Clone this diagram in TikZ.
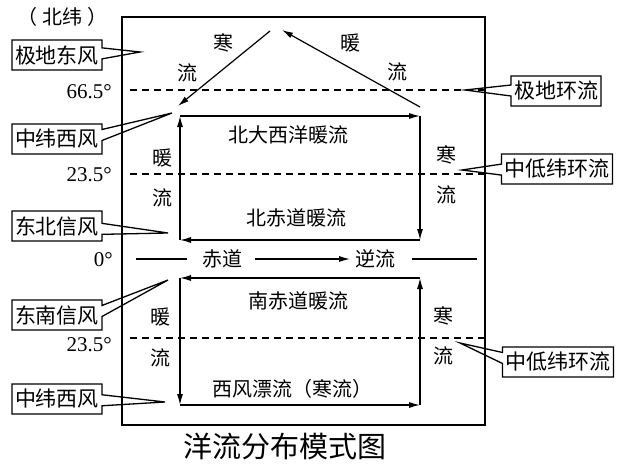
\documentclass[tikz,border=0pt]{standalone}
\usepackage{fontspec}
\setmainfont{Liberation Serif}
\newfontfamily\cjk{Noto Sans CJK SC}
\usetikzlibrary{arrows.meta,shapes.callouts}
\tikzset{
  frame/.style={draw, line width=1.2pt},
  lat/.style={dash pattern=on 7pt off 5pt, line width=1.1pt},            % latitude lines
  flow/.style={-{Latex[length=11pt,width=6pt]}, line width=1.2pt},        % currents
  cn/.style={font=\cjk\fontsize{20}{20}\selectfont, inner sep=0pt},
  deg/.style={font=\fontsize{21}{21}\selectfont, anchor=east, inner sep=0pt},
  wind/.style={rectangle callout, draw, fill=white, line width=1.3pt, inner sep=3pt,
    minimum height=30pt, callout pointer width=11pt, font=\cjk\fontsize{21}{21}\selectfont}
}

\begin{document}
\begin{tikzpicture}[x=1pt,y={(0pt,-1pt)}]
  \useasboundingbox (0,0) rectangle (640,466);

  % wind belts and cells
  \node[wind, callout absolute pointer={(140,52)}] (wPolar) at (57,55) {极地东风};
  \node[wind, callout absolute pointer={(172,113)}] (wWestN) at (57,139) {中纬西风};
  \node[wind, callout absolute pointer={(168,233)}] (wTradeN) at (57,226) {东北信风};
  \node[wind, callout absolute pointer={(168,280)}] (wTradeS) at (57,315) {东南信风};
  \node[wind, callout absolute pointer={(165,402)}] (wWestS) at (57,399) {中纬西风};
  \node[wind, callout absolute pointer={(465,90)}] (cPolar) at (556,91) {极地环流};
  \node[wind, callout absolute pointer={(462,170)}] (cLowN) at (557,169) {中低纬环流};
  \node[wind, callout absolute pointer={(460,343)}] (cLowS) at (558,362) {中低纬环流};

  \draw[frame] (122,17) rectangle (485,425);

  \coordinate (l66a) at (130,90);  \coordinate (l66b) at (488,90);
  \coordinate (l23a) at (130,174); \coordinate (l23b) at (488,174);
  \coordinate (s23a) at (130,338); \coordinate (s23b) at (488,338);
  \draw[lat] (l66a) -- (l66b);
  \draw[lat] (l23a) -- (l23b);
  \draw[lat] (s23a) -- (s23b);

  \node[cn] (north) at (62,17) {（\hspace{5pt}北纬\hspace{5pt}）};
  \node[deg] (d66) at (112,92) {66.5°};
  \node[deg] (d23) at (112,175) {23.5°};
  \node[deg] (d0) at (113,260) {0°};
  \node[deg] (s23) at (112,345) {23.5°};

  % equator
  \coordinate (eqA) at (136,259); \coordinate (eqB) at (187,259);
  \coordinate (eqC) at (255,259); \coordinate (eqD) at (350,259);
  \coordinate (eqE) at (412,259); \coordinate (eqF) at (477,259);
  \node[cn] (eqName) at (222,259) {赤道};
  \node[cn] (eqCounter) at (375,259) {逆流};
  \draw[line width=1.2pt] (eqA) -- (eqB);
  \draw[flow] (eqC) -- (eqD);
  \draw[line width=1.2pt] (eqE) -- (eqF);

  % polar currents
  \coordinate (pTop) at (270,31);  \coordinate (pLeft) at (178,106);
  \coordinate (pRight) at (420,107); \coordinate (pTip) at (282,30);
  \draw[flow] (pTop) -- (pLeft);
  \draw[flow] (pRight) -- (pTip);
  \node[cn] (pc1) at (223,43) {寒};
  \node[cn] (pc2) at (187,73) {流};
  \node[cn] (pw1) at (350,43) {暖};
  \node[cn] (pw2) at (397,72) {流};

  % northern gyre
  \coordinate (nTL) at (180,116); \coordinate (nTR) at (420,116);
  \coordinate (nBR) at (420,240); \coordinate (nBL) at (180,240);
  \draw[flow] (nBL) -- (nTL);
  \draw[flow] (nTL) -- (nTR);
  \draw[flow] (nTR) -- (nBR);
  \draw[flow] (nBR) -- (nBL);
  \node[cn] (nTop) at (288,135) {北大西洋暖流};
  \node[cn] (nBot) at (296,218) {北赤道暖流};
  \node[cn] (nW1) at (162,158) {暖};
  \node[cn] (nW2) at (162,198) {流};
  \node[cn] (nC1) at (446,155) {寒};
  \node[cn] (nC2) at (446,195) {流};

  % southern gyre
  \coordinate (sTL) at (180,278); \coordinate (sTR) at (420,278);
  \coordinate (sBR) at (420,405); \coordinate (sBL) at (180,405);
  \draw[flow] (sTR) -- (sTL);
  \draw[flow] (sTL) -- (sBL);
  \draw[flow] (sBL) -- (sBR);
  \draw[flow] (sBR) -- (sTR);
  \node[cn] (sTop) at (298,301) {南赤道暖流};
  \node[cn] (sBot) at (292,389) {西风漂流（寒流）};
  \node[cn] (sW1) at (160,317) {暖};
  \node[cn] (sW2) at (160,358) {流};
  \node[cn] (sC1) at (443,316) {寒};
  \node[cn] (sC2) at (443,356) {流};

  \node[font=\cjk\fontsize{29}{29}\selectfont, inner sep=0pt] (title) at (285,446) {洋流分布模式图};
\end{tikzpicture}
\end{document}
